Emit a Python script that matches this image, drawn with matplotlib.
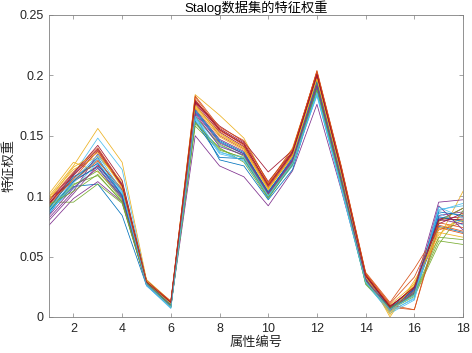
#!/usr/bin/env python3
import matplotlib
matplotlib.use("Agg")
import matplotlib.pyplot as plt

attributes = list(range(1, 19))

# feature weights per run (attributes 1..18)
run01 = [0.088, 0.108, 0.110, 0.084, 0.026, 0.008, 0.170, 0.145, 0.135, 0.104, 0.130, 0.192, 0.113, 0.031, 0.006, 0.020, 0.082, 0.080]
run02 = [0.094, 0.115, 0.130, 0.105, 0.029, 0.011, 0.176, 0.150, 0.139, 0.107, 0.134, 0.197, 0.118, 0.033, 0.008, 0.006, 0.078, 0.074]
run03 = [0.100, 0.125, 0.156, 0.128, 0.031, 0.013, 0.184, 0.167, 0.148, 0.110, 0.140, 0.201, 0.122, 0.036, 0.000, 0.030, 0.065, 0.104]
run04 = [0.076, 0.098, 0.112, 0.095, 0.027, 0.009, 0.150, 0.125, 0.116, 0.092, 0.121, 0.176, 0.105, 0.030, 0.005, 0.024, 0.095, 0.097]
run05 = [0.095, 0.095, 0.110, 0.094, 0.027, 0.008, 0.160, 0.140, 0.128, 0.098, 0.127, 0.185, 0.109, 0.029, 0.007, 0.018, 0.063, 0.060]
run06 = [0.090, 0.118, 0.148, 0.122, 0.029, 0.010, 0.163, 0.135, 0.130, 0.100, 0.128, 0.183, 0.108, 0.028, 0.004, 0.016, 0.088, 0.094]
run07 = [0.098, 0.112, 0.125, 0.105, 0.030, 0.012, 0.178, 0.158, 0.145, 0.120, 0.138, 0.202, 0.123, 0.035, 0.009, 0.023, 0.080, 0.090]
run08 = [0.085, 0.112, 0.132, 0.100, 0.027, 0.009, 0.167, 0.130, 0.125, 0.097, 0.122, 0.188, 0.110, 0.030, 0.006, 0.019, 0.075, 0.070]
run09 = [0.097, 0.120, 0.140, 0.110, 0.030, 0.013, 0.182, 0.155, 0.142, 0.110, 0.136, 0.204, 0.125, 0.037, 0.012, 0.040, 0.072, 0.078]
run10 = [0.102, 0.128, 0.120, 0.100, 0.029, 0.011, 0.175, 0.152, 0.140, 0.106, 0.133, 0.198, 0.120, 0.034, 0.010, 0.027, 0.070, 0.066]
run11 = [0.082, 0.104, 0.135, 0.110, 0.028, 0.010, 0.172, 0.147, 0.137, 0.103, 0.131, 0.194, 0.116, 0.032, 0.005, 0.021, 0.084, 0.087]
run12 = [0.091, 0.110, 0.117, 0.096, 0.028, 0.009, 0.158, 0.138, 0.132, 0.100, 0.127, 0.190, 0.112, 0.027, 0.006, 0.017, 0.060, 0.088]
run13 = [0.088, 0.106, 0.128, 0.102, 0.026, 0.007, 0.165, 0.142, 0.134, 0.101, 0.129, 0.186, 0.107, 0.029, 0.003, 0.014, 0.086, 0.076]
run14 = [0.093, 0.117, 0.137, 0.108, 0.030, 0.012, 0.177, 0.153, 0.141, 0.108, 0.135, 0.199, 0.121, 0.035, 0.008, 0.025, 0.081, 0.083]
run15 = [0.087, 0.113, 0.124, 0.099, 0.027, 0.009, 0.162, 0.132, 0.131, 0.099, 0.126, 0.189, 0.111, 0.031, 0.007, 0.022, 0.083, 0.079]
run16 = [0.092, 0.114, 0.138, 0.108, 0.029, 0.012, 0.180, 0.154, 0.143, 0.109, 0.137, 0.203, 0.124, 0.036, 0.010, 0.006, 0.074, 0.069]
run17 = [0.099, 0.122, 0.133, 0.112, 0.030, 0.011, 0.173, 0.149, 0.138, 0.105, 0.134, 0.196, 0.119, 0.033, 0.002, 0.028, 0.068, 0.085]
run18 = [0.080, 0.102, 0.126, 0.100, 0.028, 0.009, 0.169, 0.144, 0.135, 0.102, 0.130, 0.191, 0.114, 0.031, 0.006, 0.020, 0.092, 0.072]
run19 = [0.089, 0.109, 0.121, 0.097, 0.027, 0.008, 0.166, 0.143, 0.133, 0.101, 0.128, 0.193, 0.115, 0.030, 0.008, 0.021, 0.079, 0.090]
run20 = [0.086, 0.111, 0.131, 0.103, 0.026, 0.008, 0.164, 0.137, 0.129, 0.100, 0.125, 0.184, 0.106, 0.028, 0.005, 0.015, 0.091, 0.082]
run21 = [0.096, 0.119, 0.142, 0.113, 0.030, 0.012, 0.179, 0.156, 0.144, 0.112, 0.137, 0.200, 0.122, 0.034, 0.009, 0.024, 0.077, 0.086]
run22 = [0.090, 0.116, 0.127, 0.101, 0.028, 0.010, 0.171, 0.146, 0.136, 0.103, 0.132, 0.195, 0.117, 0.032, 0.007, 0.023, 0.087, 0.084]
run23 = [0.095, 0.113, 0.129, 0.106, 0.029, 0.013, 0.183, 0.157, 0.146, 0.111, 0.139, 0.203, 0.124, 0.036, 0.011, 0.033, 0.076, 0.071]
run24 = [0.097, 0.124, 0.136, 0.107, 0.030, 0.011, 0.174, 0.151, 0.140, 0.106, 0.133, 0.197, 0.118, 0.033, 0.004, 0.026, 0.073, 0.080]
run25 = [0.084, 0.107, 0.123, 0.098, 0.027, 0.009, 0.168, 0.141, 0.134, 0.102, 0.129, 0.192, 0.113, 0.031, 0.006, 0.022, 0.081, 0.077]
run26 = [0.093, 0.104, 0.118, 0.095, 0.028, 0.009, 0.161, 0.139, 0.131, 0.099, 0.126, 0.188, 0.110, 0.028, 0.007, 0.019, 0.066, 0.064]
run27 = [0.089, 0.113, 0.134, 0.104, 0.027, 0.008, 0.166, 0.136, 0.132, 0.100, 0.127, 0.185, 0.108, 0.029, 0.006, 0.018, 0.089, 0.092]
run28 = [0.094, 0.118, 0.139, 0.109, 0.029, 0.012, 0.178, 0.155, 0.143, 0.109, 0.136, 0.201, 0.121, 0.034, 0.008, 0.025, 0.080, 0.081]

runs = [run01, run02, run03, run04, run05, run06, run07, run08, run09, run10,
        run11, run12, run13, run14, run15, run16, run17, run18, run19, run20,
        run21, run22, run23, run24, run25, run26, run27, run28]

x_ticks = [2, 4, 6, 8, 10, 12, 14, 16, 18]
y_ticks = [0, 0.05, 0.1, 0.15, 0.2, 0.25]
y_tick_labels = ["0", "0.05", "0.1", "0.15", "0.2", "0.25"]

# MATLAB default line colour order
MATLAB_COLORS = ["#0072BD", "#D95319", "#EDB120", "#7E2F8E", "#77AC30", "#4DBEEE", "#A2142F"]

SANS = ["Liberation Sans", "Noto Sans CJK SC"]
CJK = ["Noto Sans CJK SC", "DejaVu Sans"]


def main() -> None:
    fig = plt.figure(figsize=(4.72, 3.53), dpi=100)
    ax = fig.add_axes([0.104, 0.102, 0.877, 0.856])

    for i, weights in enumerate(runs):
        ax.plot(attributes, weights, color=MATLAB_COLORS[i % 7], linewidth=0.55)

    ax.set_xlim(1, 18)
    ax.set_ylim(0, 0.25)
    ax.set_xticks(x_ticks)
    ax.set_yticks(y_ticks)
    ax.set_yticklabels(y_tick_labels)

    axis_gray = "#262626"
    for spine in ax.spines.values():
        spine.set_color("#808080")
        spine.set_linewidth(0.6)
    ax.tick_params(direction="in", length=3, width=0.5, color="#808080",
                   top=True, right=True, labelsize=9, labelcolor=axis_gray, pad=4)
    for label in ax.get_xticklabels() + ax.get_yticklabels():
        label.set_family(SANS)

    ax.set_title("Stalog数据集的特征权重", family=SANS, fontsize=9.5, color="black", pad=2)
    ax.set_xlabel("属性编号", family=CJK, fontsize=9.5, color=axis_gray, labelpad=1)
    ax.set_ylabel("特征权重", family=CJK, fontsize=9.5, color=axis_gray, labelpad=3)

    fig.savefig("out.png", dpi=100)


if __name__ == "__main__":
    main()
